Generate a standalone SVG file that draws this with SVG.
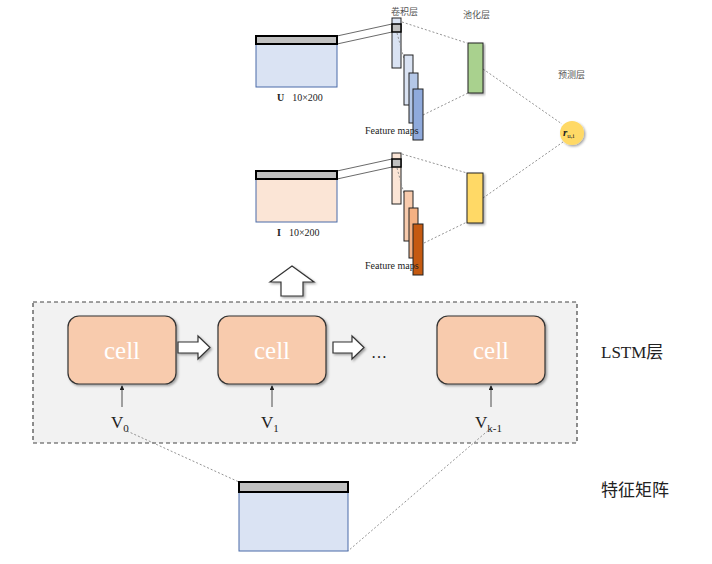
<svg xmlns="http://www.w3.org/2000/svg" width="712" height="564" viewBox="0 0 712 564">
<defs>
<filter id="sh" x="-20%" y="-20%" width="140%" height="140%">
<feDropShadow dx="1.5" dy="1.5" stdDeviation="1.2" flood-color="#000" flood-opacity="0.35"/>
</filter>
<marker id="ah" viewBox="0 0 6 6" refX="5" refY="3" markerWidth="6" markerHeight="6" orient="auto">
<path d="M0,0 L6,3 L0,6 z" fill="#222"/>
</marker>
</defs>
<style>
.dot{stroke:#888;stroke-width:0.9;stroke-dasharray:2 2;fill:none}
.thin{stroke:#444;stroke-width:0.8;fill:none}
.bar{fill:#c0c0c0;stroke:#000;stroke-width:2}
.fm{stroke:#222;stroke-width:1}
.cell{fill:#f8cbad;stroke:#333;stroke-width:1.2}
.celltxt{font-family:"Liberation Serif",serif;font-size:25px;fill:#fff;text-anchor:middle}
.sm{font-family:"Noto Sans CJK SC","Liberation Serif",serif;font-size:9px;fill:#555}
.ser{font-family:"Liberation Serif",serif;fill:#222}
.big{font-family:"Liberation Serif","Noto Sans CJK SC",serif;font-size:17px;fill:#222}
.blk{fill:#fff;stroke:#333;stroke-width:1.2}
.up{stroke:#222;stroke-width:0.8}
</style>
<rect width="712" height="564" fill="#fff"/>

<g id="lstm">
<rect x="33" y="302" width="544" height="141" fill="#f2f2f2" stroke="#444" stroke-width="1.2" stroke-dasharray="4 3"/>
</g>

<g id="connectors">
<line class="thin" x1="337" y1="36" x2="392" y2="24"/>
<line class="thin" x1="337" y1="44" x2="392" y2="32"/>
<line class="thin" x1="337" y1="171" x2="392" y2="159"/>
<line class="thin" x1="337" y1="179" x2="392" y2="167"/>
<line class="dot" x1="402" y1="22" x2="467" y2="43"/>
<line class="dot" x1="423" y1="115" x2="468" y2="93"/>
<line class="dot" x1="483" y1="69" x2="562" y2="124"/>
<line class="dot" x1="402" y1="154" x2="467" y2="173"/>
<line class="dot" x1="424" y1="243" x2="467" y2="222"/>
<line class="dot" x1="483" y1="198" x2="563" y2="142"/>
<line class="dot" x1="127" y1="431" x2="239" y2="482"/>
<line class="dot" x1="491" y1="428" x2="348" y2="551"/>
<line class="up" x1="122" y1="407" x2="122" y2="386" marker-end="url(#ah)"/>
<line class="up" x1="272" y1="407" x2="272" y2="386" marker-end="url(#ah)"/>
<line class="up" x1="491" y1="407" x2="491" y2="386" marker-end="url(#ah)"/>
<path class="blk" filter="url(#sh)" d="M270,282 L292,266 L314,282 L303,282 L303,296 L281,296 L281,282 Z"/>
</g>

<g id="cell0">
<rect class="cell" filter="url(#sh)" x="68" y="316" width="108" height="68" rx="11"/>
<text class="celltxt" x="122" y="359">cell</text>
</g>
<g id="cell1">
<rect class="cell" filter="url(#sh)" x="218" y="316" width="108" height="68" rx="11"/>
<text class="celltxt" x="272" y="359">cell</text>
</g>
<g id="cellk">
<rect class="cell" filter="url(#sh)" x="437" y="316" width="108" height="68" rx="11"/>
<text class="celltxt" x="491" y="359">cell</text>
</g>

<g id="arrows">
<path class="blk" filter="url(#sh)" d="M178,342 L198,342 L198,336 L210,347.5 L198,359 L198,353 L178,353 Z"/>
<path class="blk" filter="url(#sh)" d="M333,342 L352,342 L352,336 L364,347.5 L352,359 L352,353 L333,353 Z"/>
<text class="ser" x="371" y="358" font-size="16">…</text>
</g>

<g id="vlabels">
<text class="ser" x="111" y="428" font-size="17">V<tspan font-size="11" dy="4">0</tspan></text>
<text class="ser" x="261" y="428" font-size="17">V<tspan font-size="11" dy="4">1</tspan></text>
<text class="ser" x="475" y="428" font-size="17">V<tspan font-size="11" dy="4">k-1</tspan></text>
</g>

<g id="matrixU">
<rect x="256" y="44" width="81" height="43" fill="#dae3f3" stroke="#4a6ba8" stroke-width="1"/>
<rect class="bar" x="256" y="36" width="81" height="8"/>
<text class="ser" x="277" y="101" font-size="10"><tspan font-weight="bold">U</tspan><tspan dx="8">10×200</tspan></text>
</g>

<g id="matrixI">
<rect x="256" y="179" width="81" height="43" fill="#fbe5d6" stroke="#4a6ba8" stroke-width="1"/>
<rect class="bar" x="256" y="171" width="81" height="8"/>
<text class="ser" x="277" y="236" font-size="10"><tspan font-weight="bold">I</tspan><tspan dx="8">10×200</tspan></text>
</g>

<g id="convU">
<rect class="fm" x="392" y="18" width="9" height="50" fill="#dae3f3"/>
<rect x="392" y="24" width="9" height="8" fill="#c0c0c0" stroke="#000" stroke-width="1.5"/>
<line class="dot" x1="397" y1="33" x2="412" y2="88" stroke="#666"/>
<rect class="fm" x="404" y="55" width="9" height="50" fill="#dae3f3"/>
<rect class="fm" x="409" y="73" width="9" height="50" fill="#b4c7e7"/>
<rect class="fm" x="413" y="89" width="10" height="51" fill="#8faadc"/>
<text class="ser" x="365" y="134" font-size="10">Feature maps</text>
</g>

<g id="convI">
<rect class="fm" x="392" y="153" width="9" height="51" fill="#fbe5d6"/>
<rect x="392" y="159" width="9" height="8" fill="#c0c0c0" stroke="#000" stroke-width="1.5"/>
<line class="dot" x1="397" y1="168" x2="412" y2="223" stroke="#666"/>
<rect class="fm" x="404" y="191" width="9" height="50" fill="#f8cbad"/>
<rect class="fm" x="409" y="208" width="9" height="50" fill="#f4b183"/>
<rect class="fm" x="413" y="224" width="10" height="51" fill="#c55a11"/>
<text class="ser" x="365" y="269" font-size="10">Feature maps</text>
</g>

<g id="poolU">
<rect x="468" y="43" width="15" height="50" fill="#a9d18e" stroke="#222" stroke-width="1" filter="url(#sh)"/>
</g>
<g id="poolI">
<rect x="467" y="173" width="16" height="50" fill="#ffd966" stroke="#222" stroke-width="1" filter="url(#sh)"/>
</g>

<g id="predict">
<circle cx="572" cy="133" r="12" fill="#ffd966" filter="url(#sh)"/>
<text class="ser" x="563" y="136" font-size="11" font-style="italic" font-weight="bold">r<tspan font-size="7" dy="1.5" font-style="normal" font-weight="normal">u,i</tspan></text>
</g>

<g id="titles">
<text class="sm" x="391" y="15">卷积层</text>
<text class="sm" x="463" y="18">池化层</text>
<text class="sm" x="558" y="78">预测层</text>
<text class="big" x="601" y="358">LSTM层</text>
<text class="big" x="601" y="496" fill="#333">特征矩阵</text>
</g>

<g id="feature">
<rect x="239" y="492" width="109" height="59" fill="#dae3f3" stroke="#4a6ba8" stroke-width="1"/>
<rect class="bar" x="239" y="482" width="109" height="10"/>
</g>
</svg>
